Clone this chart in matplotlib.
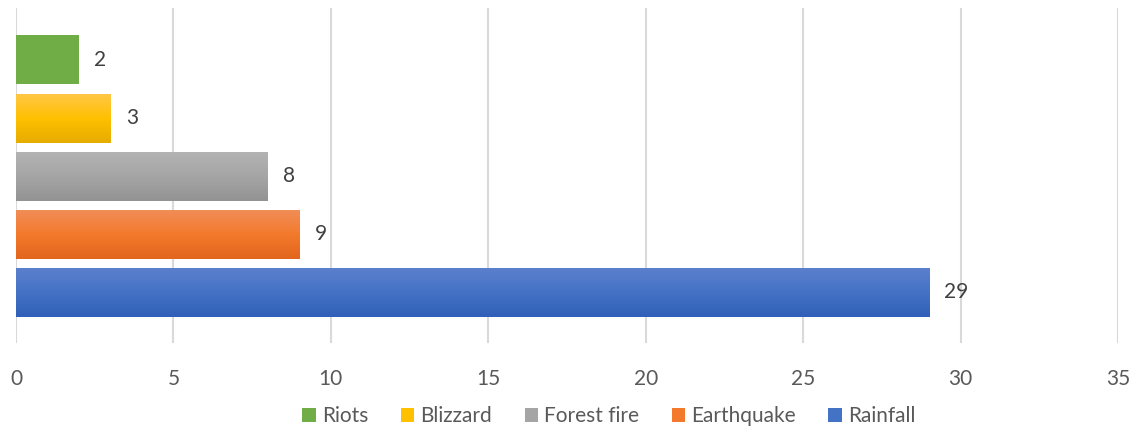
import numpy as np
import matplotlib
matplotlib.use("Agg")
import matplotlib.pyplot as plt
from matplotlib.colors import LinearSegmentedColormap
from matplotlib.patches import Patch

plt.rcParams['font.family'] = ['Lato', 'DejaVu Sans']

categories = ["Riots", "Blizzard", "Forest fire", "Earthquake", "Rainfall"]
values = [2, 3, 8, 9, 29]
# (top, middle, bottom) shades for each bar's vertical gradient
shades = [
    ("#70AD47", "#70AD47", "#70AD47"),
    ("#FFC746", "#FFC000", "#E6AC00"),
    ("#B3B3B3", "#A5A5A5", "#939393"),
    ("#F18D57", "#F37A2C", "#E2651D"),
    ("#5B80CD", "#4472C4", "#2F5FB8"),
]
x_ticks = [0, 5, 10, 15, 20, 25, 30, 35]

W, H = 1141, 433
fig = plt.figure(figsize=(W / 100, H / 100), dpi=100)
ax = fig.add_axes([16 / W, (H - 343) / H, (1118 - 16) / W, (343 - 8) / H])

n = len(categories)
positions = np.arange(n)[::-1]  # first category on top
bar_h = 0.84
bars = ax.barh(positions, values, height=bar_h,
               color=[s[1] for s in shades], zorder=2)

# vertical gradient fill on every bar
grad = np.linspace(0, 1, 256).reshape(-1, 1)
for rect, sh in zip(bars, shades):
    cmap = LinearSegmentedColormap.from_list("g", [sh[2], sh[1], sh[0]])
    x0, y0 = rect.get_x(), rect.get_y()
    w, h = rect.get_width(), rect.get_height()
    ax.imshow(grad, cmap=cmap, aspect="auto", origin="lower",
              extent=(x0, x0 + w, y0, y0 + h), zorder=3,
              interpolation="bicubic")

ax.set_xlim(0, 35)
ax.set_ylim(-0.87, n - 1 + 0.895)

# value labels
for p, v in zip(positions, values):
    ax.annotate(str(v), xy=(v, p), xytext=(11, 0), textcoords="offset points",
                va="center", ha="left", fontsize=15, color="#404040", zorder=4)

ax.set_xticks(x_ticks)
ax.set_xticklabels([str(t) for t in x_ticks])
ax.set_yticks([])
ax.tick_params(axis="x", length=0, pad=19, labelsize=15, labelcolor="#595959")
ax.grid(axis="x", color="#D9D9D9", linewidth=1.5, zorder=0)
for s in ax.spines.values():
    s.set_visible(False)

handles = [Patch(facecolor=sh[1], edgecolor="none") for sh in shades]
fig.legend(handles, categories, loc="center",
           bbox_to_anchor=(609 / W, 1 - 416 / H), ncol=n, frameon=False,
           fontsize=15, labelcolor="#595959", handlelength=0.65,
           handleheight=0.65, handletextpad=0.3, columnspacing=1.55)

fig.savefig("out.png", dpi=100)
